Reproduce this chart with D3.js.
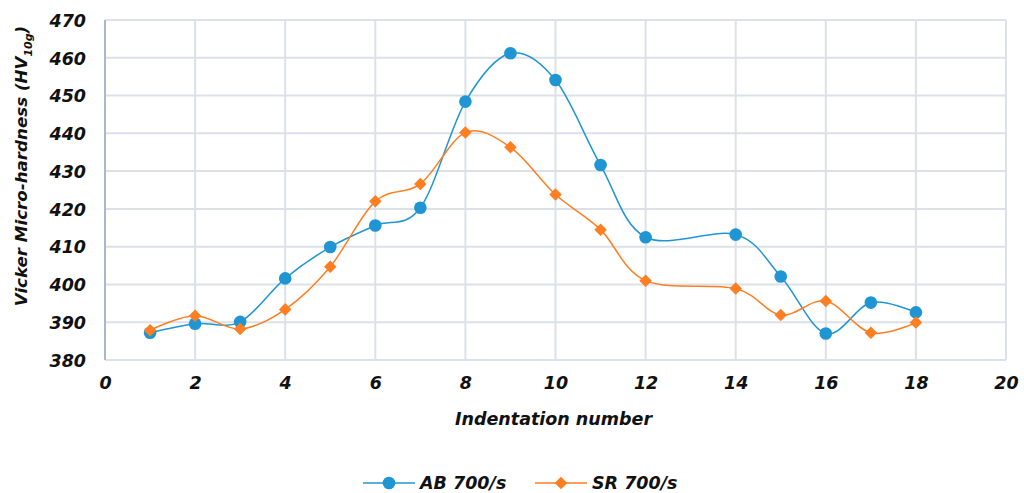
<!DOCTYPE html>
<html>
<head>
<meta charset="utf-8">
<script src="https://cdn.jsdelivr.net/npm/d3@7"></script>
<style>
  body { margin: 0; background: #fff; }
  text { font-family: "DejaVu Sans", sans-serif; font-style: italic; font-weight: 700; fill: #111; }
</style>
</head>
<body>
<div id="chart"></div>
<script>
// indentation positions (no reading at 13)
var indentations = [1, 2, 3, 4, 5, 6, 7, 8, 9, 10, 11, 12, 14, 15, 16, 17, 18];
var abValues = [387.2, 389.6, 390.1, 401.6, 409.9, 415.6, 420.3, 448.4, 461.2, 454.1, 431.6, 412.5, 413.2, 402.1, 387.0, 395.2, 392.6];
var srValues = [387.9, 391.7, 388.2, 393.4, 404.7, 422.0, 426.6, 440.2, 436.3, 423.8, 414.5, 401.0, 398.9, 391.9, 395.6, 387.2, 389.9];
var xTicks = [0, 2, 4, 6, 8, 10, 12, 14, 16, 18, 20];
var yTicks = [380, 390, 400, 410, 420, 430, 440, 450, 460, 470];

var series = [
    { name: 'AB 700/s', values: abValues, color: '#1F96D3', marker: 'circle' },
    { name: 'SR 700/s', values: srValues, color: '#FF7E21', marker: 'diamond' }
];

var attrs = {
    svgWidth: 1024,
    svgHeight: 493,
    marginTop: 20,
    marginLeft: 105,
    marginRight: 18,
    marginBottom: 133
};

var calc = {};
calc.chartWidth = attrs.svgWidth - attrs.marginLeft - attrs.marginRight;
calc.chartHeight = attrs.svgHeight - attrs.marginTop - attrs.marginBottom;

var svg = d3.select('#chart')
    .append('svg')
    .attr('width', attrs.svgWidth)
    .attr('height', attrs.svgHeight);

var chart = svg.append('g')
    .attr('transform', 'translate(' + attrs.marginLeft + ',' + attrs.marginTop + ')');

// scales
var x = d3.scaleLinear().domain([0, 20]).range([0, calc.chartWidth]);
var y = d3.scaleLinear().domain([380, 470]).range([calc.chartHeight, 0]);

// grid
chart.selectAll('.hgrid')
    .data(yTicks)
    .enter()
    .append('line')
    .attr('x1', 0)
    .attr('x2', calc.chartWidth)
    .attr('y1', d => y(d))
    .attr('y2', d => y(d))
    .attr('stroke', '#DCE1E8')
    .attr('stroke-width', 2);

chart.selectAll('.vgrid')
    .data(xTicks.slice(1))
    .enter()
    .append('line')
    .attr('x1', d => x(d))
    .attr('x2', d => x(d))
    .attr('y1', 0)
    .attr('y2', calc.chartHeight)
    .attr('stroke', '#DCE1E8')
    .attr('stroke-width', 2);

// left axis line
chart.append('line')
    .attr('x1', 0).attr('x2', 0)
    .attr('y1', 0).attr('y2', calc.chartHeight)
    .attr('stroke', '#A9B9CC')
    .attr('stroke-width', 2);

// axes (labels only)
var yAxis = chart.append('g')
    .call(d3.axisLeft(y).tickValues(yTicks).tickSize(0).tickPadding(19));
var xAxis = chart.append('g')
    .attr('transform', 'translate(0,' + calc.chartHeight + ')')
    .call(d3.axisBottom(x).tickValues(xTicks).tickSize(0).tickPadding(17));

[yAxis, xAxis].forEach(function (ax) {
    ax.select('.domain').remove();
    ax.selectAll('text')
        .attr('fill', '#111')
        .style('font-family', '"DejaVu Sans", sans-serif')
        .style('font-size', '17.5px');
});
yAxis.selectAll('text').attr('dy', '0.36em');

// axis titles
svg.append('text')
    .attr('x', attrs.marginLeft + calc.chartWidth / 2 - 2)
    .attr('y', 425)
    .attr('text-anchor', 'middle')
    .style('font-size', '17.5px')
    .text('Indentation number');

var yTitle = svg.append('text')
    .attr('transform', 'translate(27,' + (attrs.marginTop + 146) + ') rotate(-90)')
    .attr('text-anchor', 'middle')
    .style('font-size', '16.7px');
yTitle.append('tspan').text('Vicker Micro-hardness (HV');
yTitle.append('tspan').attr('dy', 5).style('font-size', '11px').text('10g');
yTitle.append('tspan').attr('dy', -5).text(')');

// lines
var line = d3.line()
    .x(d => x(d[0]))
    .y(d => y(d[1]))
    .curve(d3.curveCardinal.tension(0));

var symbolFor = function (s) {
    return d3.symbol()
        .type(s.marker === 'circle' ? d3.symbolCircle : d3.symbolDiamond2)
        .size(s.marker === 'circle' ? 125 : 100)();
};

series.forEach(function (s) {
    var pts = indentations.map((d, i) => [d, s.values[i]]);
    chart.append('path')
        .datum(pts)
        .attr('d', line)
        .attr('fill', 'none')
        .attr('stroke', s.color)
        .attr('stroke-width', 1.5);

    chart.selectAll('.pt-' + s.marker)
        .data(pts)
        .enter()
        .append('path')
        .attr('d', symbolFor(s))
        .attr('transform', d => 'translate(' + x(d[0]) + ',' + y(d[1]) + ')')
        .attr('fill', s.color);
});

// legend
var legend = svg.append('g').attr('transform', 'translate(363,483)');
var legendX = [0, 172];
series.forEach(function (s, i) {
    var g = legend.append('g').attr('transform', 'translate(' + legendX[i] + ',0)');
    g.append('line')
        .attr('x1', 0).attr('x2', 52)
        .attr('y1', 0).attr('y2', 0)
        .attr('stroke', s.color)
        .attr('stroke-width', 1.5);
    g.append('path')
        .attr('d', symbolFor(s))
        .attr('transform', 'translate(26,0)')
        .attr('fill', s.color);
    g.append('text')
        .attr('x', 57)
        .attr('y', 0)
        .attr('dy', '0.35em')
        .style('font-size', '17.5px')
        .text(s.name);
});
</script>
</body>
</html>
